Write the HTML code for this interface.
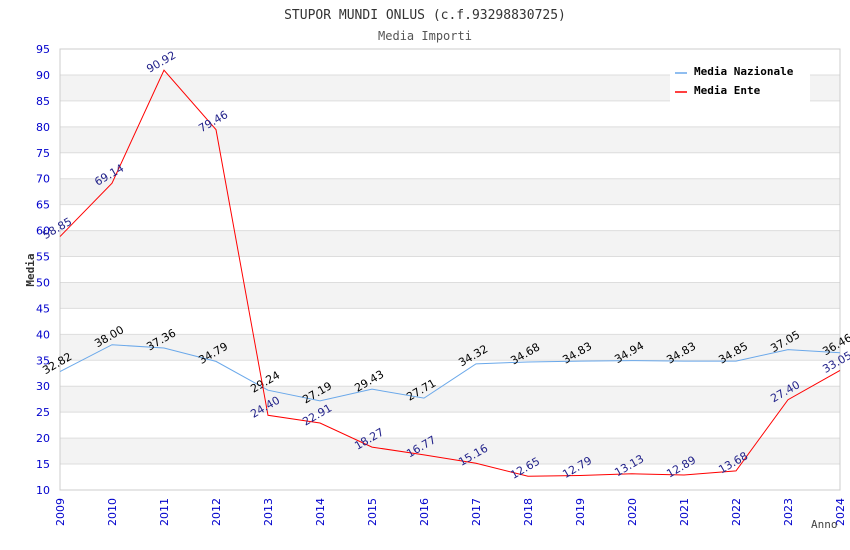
<!DOCTYPE html>
<html><head><meta charset="utf-8"><style>
body{margin:0;background:#fff;}
svg{display:block;font-family:"DejaVu Sans","Liberation Sans",sans-serif;}
.mono{font-family:"DejaVu Sans Mono","Liberation Mono",monospace;}
</style></head><body>
<svg id="c" width="850" height="550" xmlns="http://www.w3.org/2000/svg">
<text class="mono" x="425" y="19" text-anchor="middle" font-size="13" fill="#333">STUPOR MUNDI ONLUS (c.f.93298830725)</text>
<text class="mono" x="425" y="40" text-anchor="middle" font-size="12" fill="#555">Media Importi</text>
<g id="grid"></g>
<g id="axes"></g>
<g id="series"></g>
<text class="mono" x="34" y="270" text-anchor="middle" font-size="11" font-weight="bold" fill="#333" transform="rotate(-90 34 270)">Media</text>
<text class="mono" x="811" y="528" font-size="11" fill="#444">Anno</text>
<g>
<rect x="670" y="60" width="140" height="42" fill="#fff"/>
<g><line x1="675" y1="73" x2="687" y2="73" stroke="#6aa8ea" stroke-width="1.5"/><text class="mono" x="694" y="75" font-size="11" font-weight="bold" fill="#000">Media Nazionale</text></g>
<g><line x1="675" y1="92" x2="687" y2="92" stroke="#f00" stroke-width="1.5"/><text class="mono" x="694" y="94" font-size="11" font-weight="bold" fill="#000">Media Ente</text></g>
</g>
</svg>
<script>
const years=[2009,2010,2011,2012,2013,2014,2015,2016,2017,2018,2019,2020,2021,2022,2023,2024];
const nazionale=[32.82,38.00,37.36,34.79,29.24,27.19,29.43,27.71,34.32,34.68,34.83,34.94,34.83,34.85,37.05,36.46];
const ente=[58.85,69.14,90.92,79.46,24.40,22.91,18.27,16.77,15.16,12.65,12.79,13.13,12.89,13.68,27.40,33.05];
const yTicks=[10,15,20,25,30,35,40,45,50,55,60,65,70,75,80,85,90,95];
const NS="http://www.w3.org/2000/svg";
const x0=60,x1=840,yTop=49,yBot=490,yMin=10,yMax=95;
const X=i=>x0+(x1-x0)*i/(years.length-1);
const Y=v=>yBot-(v-yMin)/(yMax-yMin)*(yBot-yTop);
function mk(t,a,p){const e=document.createElementNS(NS,t);for(const k in a)e.setAttribute(k,a[k]);p.appendChild(e);return e;}
const grid=document.getElementById('grid'),axes=document.getElementById('axes'),ser=document.getElementById('series');
for(let i=0;i<yTicks.length-1;i++){
  const a=yTicks[i],b=yTicks[i+1];
  if((a/5)%2==1){const r=mk('rect',{x:x0,y:Y(b),width:x1-x0,height:Y(a)-Y(b),fill:'#f3f3f3'},grid);
  
  }
}
yTicks.forEach(v=>{
  const l=mk('line',{x1:x0,x2:x1,y1:Y(v),y2:Y(v),stroke:'#ddd'},grid);
  
  
  const t=mk('text',{x:x0-10,y:Y(v)+4,'text-anchor':'end','font-size':11,fill:'#00c'},axes);
  t.textContent=v;
  
  
});
mk('rect',{x:x0,y:yTop,width:x1-x0,height:yBot-yTop,fill:'none',stroke:'#ccc'},axes);
years.forEach((yr,i)=>{
  const x=X(i)+4,y=yBot+8;
  const t=mk('text',{x:x,y:y,'text-anchor':'end','font-size':11,fill:'#00c',transform:`rotate(-90 ${x} ${y})`},axes);
  t.textContent=yr;
  
  
});
function series(vals,color,lblColor,name){
  const p=mk('polyline',{points:vals.map((v,i)=>X(i)+','+Y(v)).join(' '),fill:'none',stroke:color,'stroke-width':1},ser);
  
  
  vals.forEach((v,i)=>{
    const x=X(i)-1,y=Y(v)-5;
    const t=mk('text',{x:x,y:y,'text-anchor':'middle','font-size':11,fill:lblColor,transform:`rotate(-30 ${x} ${y})`},ser);
    t.textContent=v.toFixed(2);
    
    
  });
}
series(nazionale,'#6aa8ea','#000','nazionale');
series(ente,'#f00','#22228a','ente');
</script>
</body></html>
